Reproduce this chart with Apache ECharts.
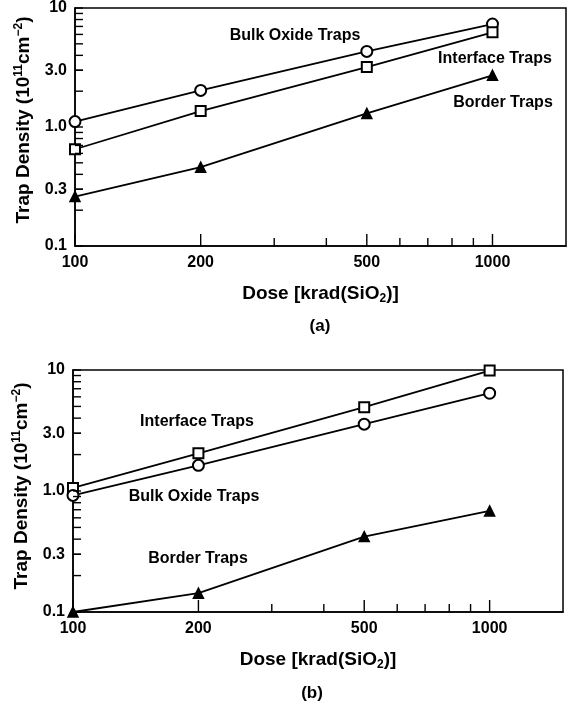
<!DOCTYPE html>
<html>
<head>
<meta charset="utf-8">
<script src="https://cdn.jsdelivr.net/npm/echarts@6/dist/echarts.min.js"></script>
<style>
  html, body { margin: 0; padding: 0; background: #fff; }
  #main { width: 571px; height: 703px; }
</style>
</head>
<body>
<div id="main"></div>
<script>
// dose values (krad(SiO2))
const dose = [100, 200, 500, 1000];

// panel (a)
const bulkA = [1.11, 2.03, 4.32, 7.33];
const interfaceA = [0.65, 1.36, 3.19, 6.25];
const borderA = [0.26, 0.46, 1.30, 2.72];

// panel (b)
const interfaceB = [1.06, 2.05, 4.93, 9.9];
const bulkB = [0.92, 1.63, 3.57, 6.43];
const borderB = [0.1, 0.143, 0.42, 0.685];

// axis ticks
const xLabelTicks = [100, 200, 500, 1000];
const xMinorTicks = [300, 400, 600, 700, 800, 900];
const yLabelTicks = [0.1, 0.3, 1, 3, 10];
const yLabelText = ['0.1', '0.3', '1.0', '3.0', '10'];
const yMinorTicks = [0.2, 0.3, 0.4, 0.5, 0.6, 0.7, 0.8, 0.9, 2, 3, 4, 5, 6, 7, 8, 9];

const X_MIN = 100, X_MAX = 1500, Y_MIN = 0.1, Y_MAX = 10;
const FONT = 'Liberation Sans, Arial, Helvetica, sans-serif';

const chart = echarts.init(document.getElementById('main'));

function pairs(ys) {
  return dose.map((d, i) => [d, ys[i]]);
}

function lineSeries(idx, name, ys, symbol, size) {
  return {
    name: name,
    type: 'line',
    xAxisIndex: idx,
    yAxisIndex: idx,
    data: pairs(ys),
    symbol: symbol,
    symbolSize: size,
    showSymbol: true,
    lineStyle: { color: '#000', width: 1.8 },
    itemStyle: { color: '#000', borderColor: '#000', borderWidth: 1.5 },
    z: 3
  };
}

// ticks and labels drawn through the axis scales
function xTickSeries(idx) {
  const data = xLabelTicks.map(v => [v, Y_MIN, 1]).concat(xMinorTicks.map(v => [v, Y_MIN, 0]));
  return {
    type: 'custom',
    xAxisIndex: idx,
    yAxisIndex: idx,
    data: data,
    silent: true,
    z: 4,
    renderItem: function (params, api) {
      const p = api.coord([api.value(0), api.value(1)]);
      const major = api.value(2) === 1;
      const len = major ? 12 : 8;
      const children = [{
        type: 'line',
        shape: { x1: p[0], y1: p[1], x2: p[0], y2: p[1] - len },
        style: { stroke: '#000', lineWidth: 1.4 }
      }];
      if (major) {
        children.push({
          type: 'text',
          x: p[0],
          y: p[1] + 9,
          style: {
            text: String(api.value(0)),
            fill: '#000',
            font: 'bold 16px ' + FONT,
            align: 'center', verticalAlign: 'top',
            textAlign: 'center', textVerticalAlign: 'top'
          }
        });
      }
      return { type: 'group', children: children };
    }
  };
}

function yTickSeries(idx) {
  const data = yLabelTicks.map((v, i) => [X_MIN, v, i]).concat(yMinorTicks.map(v => [X_MIN, v, -1]));
  return {
    type: 'custom',
    xAxisIndex: idx,
    yAxisIndex: idx,
    data: data,
    silent: true,
    z: 4,
    renderItem: function (params, api) {
      const p = api.coord([api.value(0), api.value(1)]);
      const li = api.value(2);
      const children = [{
        type: 'line',
        shape: { x1: p[0], y1: p[1], x2: p[0] + 8, y2: p[1] },
        style: { stroke: '#000', lineWidth: 1.4 }
      }];
      if (li >= 0) {
        children.push({
          type: 'text',
          x: p[0] - 8,
          y: p[1],
          style: {
            text: yLabelText[li],
            fill: '#000',
            font: 'bold 16px ' + FONT,
            align: 'right', verticalAlign: 'middle',
            textAlign: 'right', textVerticalAlign: 'middle'
          }
        });
      }
      return { type: 'group', children: children };
    }
  };
}

function xAxis(idx) {
  return {
    type: 'log',
    gridIndex: idx,
    min: X_MIN,
    max: X_MAX,
    name: '{t|Dose [krad(SiO}{s|2}{t|)]}',
    nameLocation: 'middle',
    nameGap: 37,
    nameTextStyle: {
      rich: {
        t: { fontSize: 19, fontWeight: 'bold', fontFamily: FONT, color: '#000' },
        s: { fontSize: 12, fontWeight: 'bold', fontFamily: FONT, color: '#000', verticalAlign: 'bottom', padding: [10, 0, 0, 0] }
      }
    },
    axisLine: { show: true, lineStyle: { color: '#000', width: 1.5 } },
    axisTick: { show: false },
    axisLabel: { show: false },
    splitLine: { show: false },
    minorTick: { show: false }
  };
}

function yAxis(idx, shift) {
  return {
    type: 'log',
    gridIndex: idx,
    min: Y_MIN,
    max: Y_MAX,
    name: '{t|Trap Density (10}{s|11}{t|cm}{s|\u22122}{t|)}',
    nameLocation: 'middle',
    nameGap: 40,
    nameRotate: 90,
    nameTextStyle: {
      padding: [0, 0, 0, shift],
      rich: {
        t: { fontSize: 19, fontWeight: 'bold', fontFamily: FONT, color: '#000' },
        s: { fontSize: 12, fontWeight: 'bold', fontFamily: FONT, color: '#000', verticalAlign: 'top', padding: [0, 0, 10, 0] }
      }
    },
    axisLine: { show: true, lineStyle: { color: '#000', width: 1.5 } },
    axisTick: { show: false },
    axisLabel: { show: false },
    splitLine: { show: false },
    minorTick: { show: false }
  };
}

function note(text, x, y, size) {
  return {
    type: 'text',
    x: x,
    y: y,
    style: {
      text: text,
      fill: '#000',
      font: 'bold ' + (size || 16) + 'px ' + FONT,
      align: 'center', verticalAlign: 'middle',
      textAlign: 'center', textVerticalAlign: 'middle'
    }
  };
}

chart.setOption({
  animation: false,
  backgroundColor: '#fff',
  grid: [
    { left: 75, top: 8, width: 491, height: 238, show: true, borderColor: '#000', borderWidth: 1.5, backgroundColor: 'transparent' },
    { left: 73, top: 370, width: 490, height: 242, show: true, borderColor: '#000', borderWidth: 1.5, backgroundColor: 'transparent' }
  ],
  xAxis: [xAxis(0), xAxis(1)],
  yAxis: [yAxis(0, 14), yAxis(1, 10)],
  graphic: [
    note('Bulk Oxide Traps', 295, 36),
    note('Interface Traps', 495, 59),
    note('Border Traps', 503, 103),
    note('Interface Traps', 197, 422),
    note('Bulk Oxide Traps', 194, 497),
    note('Border Traps', 198, 559),
    note('(a)', 320, 326, 17),
    note('(b)', 312, 693, 17)
  ],
  series: [
    lineSeries(0, 'Bulk Oxide Traps', bulkA, 'emptyCircle', 11),
    lineSeries(0, 'Interface Traps', interfaceA, 'emptyRect', 10),
    lineSeries(0, 'Border Traps', borderA, 'triangle', 10),
    lineSeries(1, 'Interface Traps', interfaceB, 'emptyRect', 10),
    lineSeries(1, 'Bulk Oxide Traps', bulkB, 'emptyCircle', 11),
    lineSeries(1, 'Border Traps', borderB, 'triangle', 10),
    xTickSeries(0), yTickSeries(0),
    xTickSeries(1), yTickSeries(1)
  ]
});
</script>
</body>
</html>
